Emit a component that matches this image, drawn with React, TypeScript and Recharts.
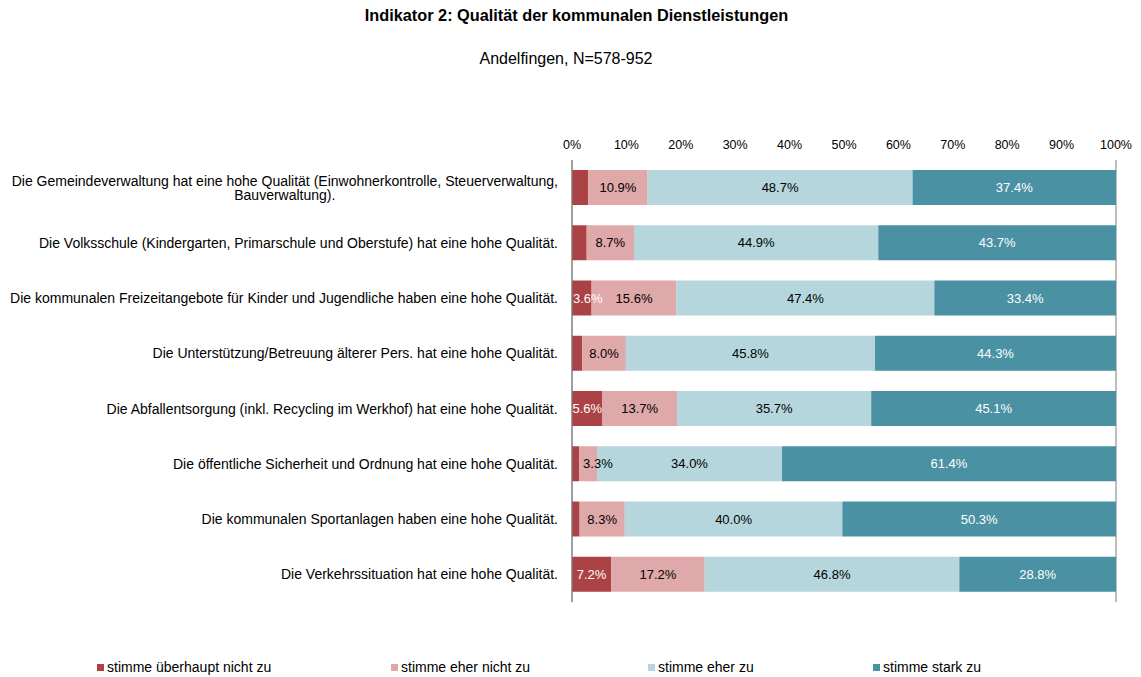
import React from 'react';
import { BarChart, Bar, XAxis, YAxis, CartesianGrid, LabelList } from 'recharts';

const categories = [
  'Die Gemeindeverwaltung hat eine hohe Qualität (Einwohnerkontrolle, Steuerverwaltung,\nBauverwaltung).',
  'Die Volksschule (Kindergarten, Primarschule und Oberstufe) hat eine hohe Qualität.',
  'Die kommunalen Freizeitangebote für Kinder und Jugendliche haben eine hohe Qualität.',
  'Die Unterstützung/Betreuung älterer Pers. hat eine hohe Qualität.',
  'Die Abfallentsorgung (inkl. Recycling im Werkhof) hat eine hohe Qualität.',
  'Die öffentliche Sicherheit und Ordnung hat eine hohe Qualität.',
  'Die kommunalen Sportanlagen haben eine hohe Qualität.',
  'Die Verkehrssituation hat eine hohe Qualität.',
];

const stronglyDisagree = [3.0, 2.7, 3.6, 1.9, 5.6, 1.3, 1.4, 7.2];
const ratherDisagree = [10.9, 8.7, 15.6, 8.0, 13.7, 3.3, 8.3, 17.2];
const ratherAgree = [48.7, 44.9, 47.4, 45.8, 35.7, 34.0, 40.0, 46.8];
const stronglyAgree = [37.4, 43.7, 33.4, 44.3, 45.1, 61.4, 50.3, 28.8];

const seriesNames = ['stimme überhaupt nicht zu', 'stimme eher nicht zu', 'stimme eher zu', 'stimme stark zu'];
const xTicks = [0, 10, 20, 30, 40, 50, 60, 70, 80, 90, 100];

const title = 'Indikator 2: Qualität der kommunalen Dienstleistungen';
const subtitle = 'Andelfingen, N=578-952';

const COLORS = ['#AB4246', '#DFA8A9', '#B5D6DC', '#4A91A3'];
const LABEL_COLORS = ['#FFFFFF', '#000000', '#000000', '#FFFFFF'];
const FONT = '"Liberation Sans", Arial, Helvetica, sans-serif';

const data = categories.map((name, i) => ({
  name,
  s1: stronglyDisagree[i],
  s2: ratherDisagree[i],
  s3: ratherAgree[i],
  s4: stronglyAgree[i],
}));

const W = 1141;
const H = 677;
const PLOT_LEFT = 572;
const PLOT_RIGHT = 1116;
const PLOT_TOP = 160;
const PLOT_BOTTOM = 602;
const X_AXIS_H = 20;
const Y_FONT = 14;
const LABEL_FONT = 13;

let ctx: CanvasRenderingContext2D | null = null;
function measure(text: string, font: string): number {
  if (typeof document === 'undefined') return text.length * 6;
  if (!ctx) ctx = document.createElement('canvas').getContext('2d');
  if (!ctx) return text.length * 6;
  ctx.font = font;
  return ctx.measureText(text).width;
}

const YTick = (props: any) => {
  const { y, payload } = props;
  const lines: string[] = String(payload.value).split('\n');
  const w = Math.max(...lines.map((l) => measure(l, `${Y_FONT}px ${FONT}`)));
  const right = PLOT_LEFT - 14;
  const cx = right - w / 2;
  const lh = 14;
  return (
    <g>
      {lines.map((l, i) => (
        <text
          key={i}
          x={cx}
          y={y + (i - (lines.length - 1) / 2) * lh}
          textAnchor="middle"
          dominantBaseline="central"
          fontSize={Y_FONT}
          fontFamily={FONT}
          fill="#000"
        >
          {l}
        </text>
      ))}
    </g>
  );
};

const XTick = (props: any) => {
  const { x, payload } = props;
  return (
    <text x={x} y={PLOT_TOP - 15} textAnchor="middle" dominantBaseline="central" fontSize={12.5} fontFamily={FONT} fill="#000">
      {`${payload.value}%`}
    </text>
  );
};

const makeLabel = (idx: number) => (props: any) => {
  const { x, y, width, height, value } = props;
  if (value == null || value < 3.2) return null;
  const txt = `${Number(value).toFixed(1)}%`;
  const tw = measure(txt, `${LABEL_FONT}px ${FONT}`);
  let tx = x + width / 2;
  let anchor: 'middle' | 'start' = 'middle';
  if (tw > width) {
    anchor = 'start';
    tx = idx === 0 ? x + 1 : x + 4;
  }
  return (
    <text
      x={tx}
      y={y + height / 2}
      textAnchor={anchor}
      dominantBaseline="central"
      fontSize={LABEL_FONT}
      fontFamily={FONT}
      fill={LABEL_COLORS[idx]}
    >
      {txt}
    </text>
  );
};

const legendX = [97, 391, 648, 873];

export default function App() {
  return (
    <div style={{ position: 'absolute', left: 0, top: 0, width: W, height: H, background: '#fff', fontFamily: FONT }}>
      <div style={{ position: 'absolute', left: 0, width: W, top: 6, textAlign: 'center', fontSize: 16.3, fontWeight: 'bold', paddingLeft: 12, boxSizing: 'border-box' }}>
        {title}
      </div>
      <div style={{ position: 'absolute', left: 0, width: W, top: 50, textAlign: 'center', fontSize: 16, paddingRight: 9, boxSizing: 'border-box' }}>
        {subtitle}
      </div>
      <div style={{ position: 'absolute', left: 0, top: 0 }}>
        <BarChart
          width={W}
          height={PLOT_BOTTOM + 40}
          data={data}
          layout="vertical"
          barSize={35}
          margin={{ top: PLOT_TOP - X_AXIS_H, right: W - PLOT_RIGHT, bottom: 40, left: 0 }}
        >
          <CartesianGrid horizontal={false} vertical stroke="#7F7F7F" strokeWidth={1} />
          <XAxis
            type="number"
            xAxisId="top"
            orientation="top"
            domain={[0, 100]}
            ticks={xTicks}
            allowDataOverflow
            height={X_AXIS_H}
            axisLine={false}
            tickLine={false}
            tick={<XTick />}
            interval={0}
          />
          <XAxis
            type="number"
            xAxisId="bottom"
            orientation="bottom"
            domain={[0, 100]}
            height={0}
            tick={false}
            tickLine={false}
            axisLine={{ stroke: '#BFBFBF' }}
          />
          <YAxis
            type="category"
            dataKey="name"
            width={PLOT_LEFT}
            axisLine={{ stroke: '#7F7F7F' }}
            tickLine={false}
            tick={<YTick />}
            interval={0}
          />
          {['s1', 's2', 's3', 's4'].map((k, i) => (
            <Bar key={k} dataKey={k} xAxisId="top" stackId="a" fill={COLORS[i]} name={seriesNames[i]} isAnimationActive={false}>
              <LabelList dataKey={k} content={makeLabel(i)} />
            </Bar>
          ))}
        </BarChart>
      </div>
      {seriesNames.map((n, i) => (
        <div key={n} style={{ position: 'absolute', left: legendX[i], top: 659, display: 'flex', alignItems: 'center', fontSize: 14, whiteSpace: 'nowrap' }}>
          <span style={{ display: 'inline-block', width: 7, height: 7, background: COLORS[i], marginRight: 3 }} />
          <span>{n}</span>
        </div>
      ))}
    </div>
  );
}
